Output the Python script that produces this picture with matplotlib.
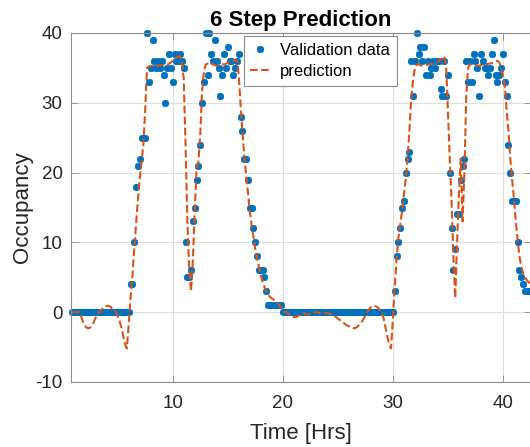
import numpy as np
import matplotlib.pyplot as plt

# occupancy readings, one every 10 minutes starting at t = 5/6 h
validation = [
    0, 0, 0, 0, 0, 0, 0, 0, 0, 0,
    0, 0, 0, 0, 0, 0, 0, 0, 0, 0,
    0, 0, 0, 0, 0, 0, 0, 0, 0, 0,
    0, 0, 4, 4, 10, 18, 21, 22, 25, 25,
    25, 40, 33, 35, 39, 36, 35, 36, 35, 36,
    34, 30, 35, 37, 35, 33, 37, 36, 36, 37,
    36, 35, 10, 5, 5, 6, 13, 15, 19, 21,
    24, 30, 33, 40, 34, 40, 37, 36, 39, 36,
    35, 31, 34, 37, 35, 38, 36, 36, 34, 35,
    36, 37, 28, 26, 22, 22, 19, 15, 15, 12,
    10, 8, 6, 6, 6, 5, 3, 1, 1, 1,
    1, 1, 1, 1, 1, 0, 0, 0, 0, 0,
    0, 0, 0, 0, 0, 0, 0, 0, 0, 0,
    0, 0, 0, 0, 0, 0, 0, 0, 0, 0,
    0, 0, 0, 0, 0, 0, 0, 0, 0, 0,
    0, 0, 0, 0, 0, 0, 0, 0, 0, 0,
    0, 0, 0, 0, 0, 0, 0, 0, 0, 0,
    0, 0, 0, 0, 0, 0, 3, 8, 10, 12,
    15, 16, 20, 22, 23, 36, 31, 36, 40, 37,
    38, 36, 38, 34, 36, 34, 35, 36, 35, 36,
    36, 32, 31, 36, 31, 34, 20, 12, 6, 9,
    14, 14, 19, 21, 22, 36, 33, 36, 33, 37,
    36, 35, 31, 37, 36, 35, 35, 34, 35, 37,
    39, 34, 33, 34, 35, 37, 33, 31, 24, 20,
    16, 16, 16, 10, 6, 5, 4, 3, 3, 3,
    3,
]

# 6 step ahead model output at the same times
prediction = [
    0, 0, 0, 0, 0, -0.5, -1.3, -1.9, -2.2, -2.3,
    -2.2, -1.9, -1.4, -0.8, -0.3, 0, 0.3, 0.6, 0.8, 0.9,
    0.9, 0.8, 0.5, 0.2, 0, -0.5, -1.2, -2.2, -3.4, -4.6,
    -5.2, -1.8, 2.0, 5.0, 9.0, 12.5, 16.0, 19.0, 21.5, 24.0,
    29.0, 35.0, 35.2, 35.3, 35.3, 35.2, 35.2, 35.3, 35.4, 35.4,
    35.3, 35.3, 35.4, 35.6, 35.8, 36.0, 36.3, 36.5, 36.6, 36.7,
    35.8, 33.5, 24.0, 13.0, 6.0, 3.0, 7.5, 14.4, 20.6, 21.5,
    25.4, 31.6, 34.4, 35.5, 35.6, 35.7, 35.6, 35.5, 35.4, 35.3,
    35.3, 35.4, 35.5, 35.5, 35.6, 35.7, 35.8, 35.9, 36.0, 36.1,
    36.1, 34.0, 29.7, 25.8, 22.5, 19.6, 17.2, 14.6, 12.5, 10.8,
    9.1, 7.7, 6.5, 5.3, 4.3, 3.6, 3.0, 2.6, 2.2, 2.0,
    1.8, 1.6, 1.3, 1.0, 0.6, 0.2, 0, 0, -0.2, -0.4,
    -0.6, -0.7, -0.7, -0.6, -0.4, -0.3, -0.2, -0.2, -0.3, -0.3,
    -0.2, -0.1, 0, 0, 0, -0.1, -0.2, -0.2, -0.1, -0.1,
    -0.2, -0.3, -0.4, -0.5, -0.7, -0.9, -1.1, -1.3, -1.5, -1.7,
    -1.9, -2.0, -2.2, -2.3, -2.3, -2.2, -2.0, -1.7, -1.4, -1.0,
    -0.5, 0, 0.4, 0.7, 0.9, 0.9, 0.8, 0.6, 0.3, 0,
    -0.9, -2.2, -3.5, -4.6, -5.2, -1.0, 3.5, 7.5, 10.6, 12.5,
    14.4, 16.8, 19.0, 22.0, 26.0, 30.5, 33.3, 35.0, 35.5, 35.5,
    35.4, 35.3, 35.3, 35.4, 35.5, 35.5, 35.6, 35.6, 35.7, 35.8,
    36.0, 36.2, 36.4, 36.7, 35.5, 29.0, 22.0, 16.0, 8.0, 2.0,
    10.0, 17.0, 22.0, 13.0, 20.0, 31.0, 35.0, 35.5, 35.5, 35.4,
    35.4, 35.3, 35.3, 35.4, 35.5, 35.5, 35.5, 35.6, 35.6, 35.7,
    35.8, 35.9, 36.0, 35.8, 35.2, 34.0, 32.5, 29.0, 26.0, 22.0,
    19.0, 16.3, 13.0, 10.5, 8.0, 6.5, 5.6, 5.0, 4.6, 4.3,
    4.0,
]

# time axis: 10 minute samples
hours = (np.arange(len(validation)) + 5) / 6

plt.rcParams['font.family'] = ['Liberation Sans', 'DejaVu Sans']
plt.rcParams['axes.unicode_minus'] = False

fig = plt.figure(figsize=(5.30, 4.47), dpi=100)
ax = fig.add_axes([71 / 530, 65 / 447, 460 / 530, 349 / 447])

# matlab style '*' marker (8 arm asterisk)
ax.plot(hours, validation, linestyle='none', marker=(8, 2, 0), markersize=5,
        markeredgewidth=1.3, color='#0072BD', label='Validation data',
        clip_on=False)
ax.plot(hours, prediction, '--', color='#D95319', linewidth=1.5,
        label='prediction')

ax.set_xlim(0.76, 42.55)
ax.set_ylim(-10, 40)
ax.set_xticks([10, 20, 30, 40])
ax.set_yticks([-10, 0, 10, 20, 30, 40])

ax.grid(True, color='#dedede', linewidth=0.8)
ax.set_axisbelow(True)
for s in ax.spines.values():
    s.set_color('#8c8c8c')
    s.set_linewidth(0.8)
ax.tick_params(direction='in', length=5, width=0.6, color='#8c8c8c',
               labelcolor='#262626', labelsize=13.5, top=True, right=True)
ax.tick_params(axis='x', pad=9)
ax.tick_params(axis='y', pad=6)

ax.set_xlabel('Time [Hrs]', fontsize=16, color='#262626', labelpad=8)
ax.set_ylabel('Occupancy', fontsize=16, color='#262626', labelpad=2)
ax.set_title('6 Step Prediction', fontsize=16, fontweight='bold', pad=5)

leg = ax.legend(loc='upper left', bbox_to_anchor=(0.375, 0.99), fontsize=12,
                fancybox=False, framealpha=1, edgecolor='#8c8c8c',
                handlelength=1.2, handletextpad=0.6, borderpad=0.4,
                labelspacing=0.35, borderaxespad=0)
leg.get_frame().set_linewidth(0.8)

fig.savefig('out.png', dpi=100)
